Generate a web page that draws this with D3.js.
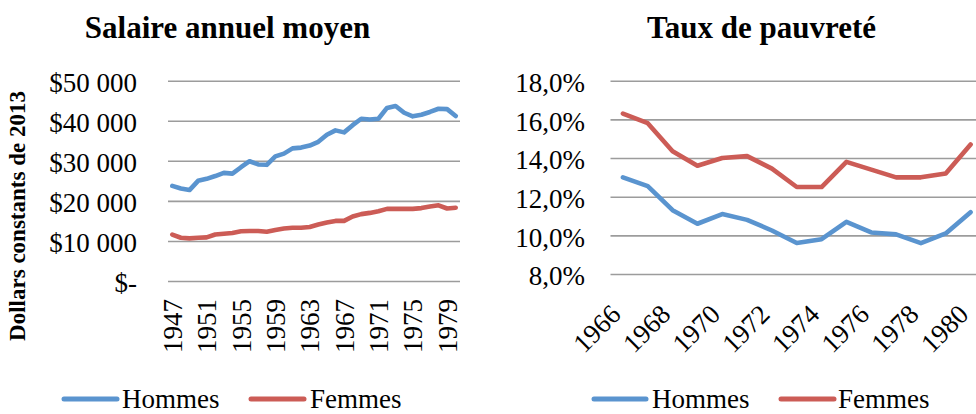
<!DOCTYPE html>
<html>
<head>
<meta charset="utf-8">
<script src="https://cdn.jsdelivr.net/npm/d3@7"></script>
<style>
  html, body { margin: 0; padding: 0; background: #fff; }
  svg { display: block; font-family: "Liberation Serif", "Times New Roman", serif; }
</style>
</head>
<body>
<svg id="chart" width="976" height="414"></svg>
<script>
// Salaire annuel moyen (dollars constants de 2013)
const wageYears = ["1947","1948","1949","1950","1951","1952","1953","1954","1955","1956",
  "1957","1958","1959","1960","1961","1962","1963","1964","1965","1966","1967","1968",
  "1969","1970","1971","1972","1973","1974","1975","1976","1977","1978","1979","1980"];
const wageMen = [23750, 23100, 22700, 25000, 25500, 26200, 27000, 26800, 28400, 29900,
  29100, 29000, 31100, 31800, 33100, 33300, 33800, 34750, 36500, 37600, 37100, 38900,
  40500, 40300, 40500, 43200, 43700, 42000, 41100, 41500, 42200, 43000, 42900, 41200];
const wageWomen = [11600, 10800, 10650, 10800, 10900, 11600, 11800, 12000, 12400, 12500,
  12500, 12300, 12750, 13100, 13300, 13300, 13500, 14100, 14600, 15000, 15000, 16100,
  16700, 17000, 17400, 18000, 18000, 18000, 18000, 18200, 18600, 18900, 18100, 18300];
const wageTickYears = ["1947","1951","1955","1959","1963","1967","1971","1975","1979"];
const wageTickValues = [0, 10000, 20000, 30000, 40000, 50000];

// Taux de pauvreté (%)
const povYears = ["1966","1967","1968","1969","1970","1971","1972","1973","1974","1975",
  "1976","1977","1978","1979","1980"];
const povMen = [13.0, 12.55, 11.3, 10.6, 11.1, 10.8, 10.25, 9.6, 9.8, 10.7, 10.15, 10.05, 9.6, 10.1, 11.2];
const povWomen = [16.3, 15.8, 14.35, 13.6, 14.0, 14.1, 13.45, 12.5, 12.5, 13.8, 13.4, 13.0, 13.0, 13.2, 14.7];
const povTickYears = ["1966","1968","1970","1972","1974","1976","1978","1980"];
const povTickValues = [8, 10, 12, 14, 16, 18];

const seriesNames = ["Hommes", "Femmes"];
const seriesColors = ["#5A94CF", "#CC5C56"];

const svg = d3.select("#chart");
const FONT = 27;
const SERIF = "Liberation Serif, Times New Roman, serif";
const gridColor = "#9c9c9c";

function styleGrid(g) {
  g.attr("font-family", SERIF);
  g.select(".domain").remove();
  g.selectAll(".tick line").attr("stroke", gridColor).attr("stroke-width", 1.6);
  g.selectAll(".tick text")
    .attr("font-size", FONT)
    .attr("fill", "#000")
    .attr("dy", "0.4em");
}

function drawLines(g, x, y, cats, series) {
  const line = d3.line()
    .x((d, i) => x(cats[i]))
    .y(d => y(d));
  series.forEach((vals, k) => {
    g.append("path")
      .datum(vals)
      .attr("fill", "none")
      .attr("stroke", seriesColors[k])
      .attr("stroke-width", 4.6)
      .attr("stroke-linejoin", "round")
      .attr("stroke-linecap", "round")
      .attr("d", line);
  });
}

function drawLegend(items) {
  items.forEach((it, k) => {
    svg.append("line")
      .attr("x1", it.x1).attr("x2", it.x2)
      .attr("y1", 399).attr("y2", 399)
      .attr("stroke", seriesColors[k])
      .attr("stroke-width", 5)
      .attr("stroke-linecap", "round");
    svg.append("text")
      .attr("x", it.tx).attr("y", 408)
      .attr("font-size", FONT)
      .text(seriesNames[k]);
  });
}

// ---------- Left panel: wages ----------
{
  const left = 168, right = 460, top = 80.7, bottom = 281;
  const x = d3.scalePoint().domain(wageYears).range([left, right]).padding(0.5);
  const y = d3.scaleLinear().domain([0, 50000]).range([bottom, top]);

  const fmt = v => v === 0 ? "$-" : "$" + d3.format(",")(v).replace(/,/g, " ");

  svg.append("g")
    .attr("transform", `translate(${left},0)`)
    .call(d3.axisLeft(y).tickValues(wageTickValues).tickFormat(fmt)
      .tickSize(-(right - left)).tickPadding(31))
    .call(styleGrid);

  const xAxis = svg.append("g")
    .attr("transform", `translate(0,${bottom})`)
    .call(d3.axisBottom(x).tickValues(wageTickYears).tickSize(0))
    .attr("font-family", SERIF);
  xAxis.select(".domain").remove();
  xAxis.selectAll(".tick text")
    .attr("font-size", FONT)
    .attr("fill", "#000")
    .attr("text-anchor", "end")
    .attr("dy", null)
    .attr("y", 0)
    .attr("transform", "translate(9,18) rotate(-90)");

  drawLines(svg.append("g"), x, y, wageYears, [wageMen, wageWomen]);

  svg.append("text")
    .attr("x", 227.5).attr("y", 38)
    .attr("text-anchor", "middle")
    .attr("font-size", 31).attr("font-weight", "bold")
    .text("Salaire annuel moyen");

  svg.append("text")
    .attr("transform", "translate(25,216) rotate(-90)")
    .attr("text-anchor", "middle")
    .attr("font-size", 23).attr("font-weight", "bold")
    .text("Dollars constants de 2013");

  drawLegend([{x1: 64, x2: 117, tx: 122}, {x1: 251, x2: 304, tx: 310}]);
}

// ---------- Right panel: poverty rate ----------
{
  const left = 610.5, right = 983, top = 80.7, bottom = 274;
  const x = d3.scalePoint().domain(povYears).range([left, right]).padding(0.5);
  const y = d3.scaleLinear().domain([8, 18]).range([bottom, top]);

  const fmt = v => d3.format(".1f")(v).replace(".", ",") + "%";

  svg.append("g")
    .attr("transform", `translate(${left},0)`)
    .call(d3.axisLeft(y).tickValues(povTickValues).tickFormat(fmt)
      .tickSize(-(right - left)).tickPadding(25.5))
    .call(styleGrid);

  const xAxis = svg.append("g")
    .attr("transform", `translate(0,${bottom})`)
    .call(d3.axisBottom(x).tickValues(povTickYears).tickSize(0))
    .attr("font-family", SERIF);
  xAxis.select(".domain").remove();
  xAxis.selectAll(".tick text")
    .attr("font-size", FONT)
    .attr("fill", "#000")
    .attr("text-anchor", "end")
    .attr("dy", null)
    .attr("y", 0)
    .attr("transform", "translate(-1,42) rotate(-45)");

  drawLines(svg.append("g"), x, y, povYears, [povMen, povWomen]);

  svg.append("text")
    .attr("x", 761.5).attr("y", 38)
    .attr("text-anchor", "middle")
    .attr("font-size", 31).attr("font-weight", "bold")
    .text("Taux de pauvreté");

  drawLegend([{x1: 594, x2: 646, tx: 652}, {x1: 781, x2: 834, tx: 838}]);
}
</script>
</body>
</html>
